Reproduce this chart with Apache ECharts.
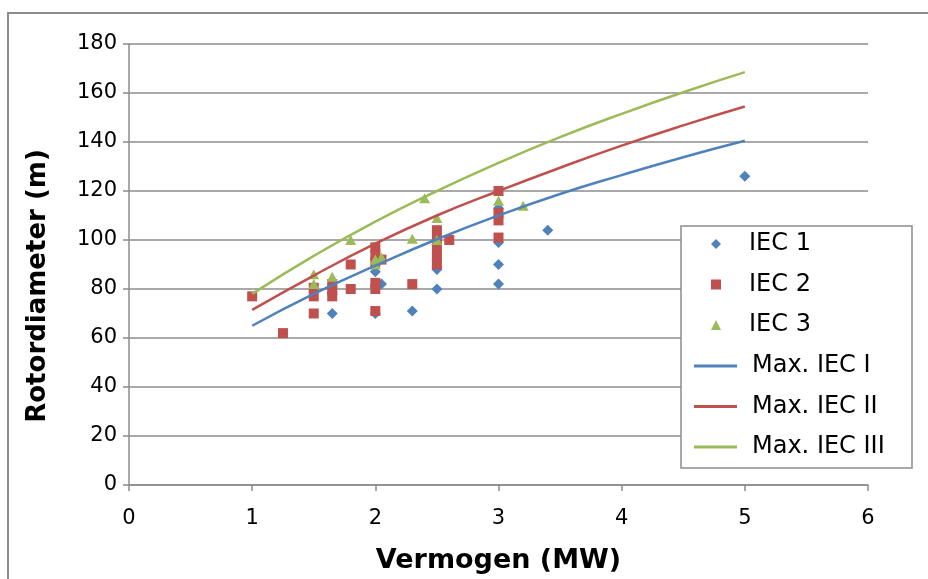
<!DOCTYPE html>
<html>
<head>
<meta charset="utf-8">
<script src="https://cdn.jsdelivr.net/npm/echarts@6/dist/echarts.min.js"></script>
<style>
html,body{margin:0;padding:0;background:#fff;}
#chart{width:928px;height:579px;}
</style>
</head>
<body>
<div id="chart"></div>
<script>
// ---- data ----
const seriesNames = ['IEC 1', 'IEC 2', 'IEC 3', 'Max. IEC I', 'Max. IEC II', 'Max. IEC III'];
const xTitle = 'Vermogen (MW)';
const yTitle = 'Rotordiameter (m)';
const xMin = 0, xMax = 6, xStep = 1;
const yMin = 0, yMax = 180, yStep = 20;

// scatter points [MW, m]
const iec1 = [[1.65,70],[2.0,70],[2.0,87],[2.05,82],[2.3,71],[2.5,80],[2.5,88],[2.5,89],
              [3.0,82],[3.0,90],[3.0,99],[3.0,113],[3.4,104],[5.0,126]];
const iec2 = [[1.0,77],[1.25,62],[1.5,70],[1.5,77],[1.5,80.5],[1.65,77],[1.65,79.5],[1.65,82],
              [1.8,80],[1.8,90],[2.0,71],[2.0,80],[2.0,82.5],[2.0,91],[2.0,94],[2.0,97],[2.05,92],
              [2.3,82],[2.5,90],[2.5,93],[2.5,96.5],[2.5,100],[2.5,104],[2.6,100],
              [3.0,101],[3.0,108],[3.0,111],[3.0,120]];
const iec3 = [[1.5,82],[1.5,86],[1.65,85],[1.8,100],[2.0,90],[2.0,92],[2.05,93],[2.3,100.5],
              [2.4,117],[2.5,100],[2.5,109],[3.0,116],[3.2,114]];

// maximum curves, read at these capacities
const curveX   = [1, 1.5, 2, 2.5, 3, 3.5, 4, 4.5, 5];
const maxIEC1  = [65, 78, 89.5, 100.3, 110, 118.8, 126.5, 133.8, 140.5];
const maxIEC2  = [71.5, 85.5, 98.5, 110, 120, 129.5, 138.5, 146.8, 154.5];
const maxIEC3  = [78, 93.5, 107.5, 120, 131.5, 142, 151.5, 160.3, 168.5];

// ---- styling ----
const FONT = 'DejaVu Sans';
const GRID = '#8c8c8c';
const colors = ['#4F81BD', '#C0504D', '#9BBB59'];

const pair = (ys) => curveX.map((x, i) => [x, ys[i]]);

const legendText = {fontFamily: FONT, fontSize: 24, color: '#000', lineHeight: 24};

const chart = echarts.init(document.getElementById('chart'), null, {renderer: 'canvas'});
chart.setOption({
  animation: false,
  backgroundColor: '#ffffff',
  grid: {left: 129, top: 44, width: 739, height: 450, containLabel: false},
  xAxis: {
    type: 'value', min: xMin, max: xMax, interval: xStep,
    name: xTitle, nameLocation: 'middle', nameGap: 62,
    nameTextStyle: {fontFamily: FONT, fontSize: 27, fontWeight: 'bold', color: '#000'},
    axisLine: {show: true, onZero: false, lineStyle: {color: GRID, width: 1.5}},
    axisTick: {show: true, length: 6, lineStyle: {color: GRID, width: 1.5}},
    axisLabel: {fontFamily: FONT, fontSize: 21, color: '#000', margin: 23},
    splitLine: {show: false}
  },
  yAxis: {
    type: 'value', min: yMin, max: yMax, interval: yStep,
    axisLine: {show: true, onZero: false, lineStyle: {color: GRID, width: 1.5}},
    axisTick: {show: true, length: 6, lineStyle: {color: GRID, width: 1.5}},
    axisLabel: {fontFamily: FONT, fontSize: 21, color: '#000', margin: 12},
    splitLine: {show: true, lineStyle: {color: GRID, width: 1.5}}
  },
  legend: [
    {
      z: 20,
      orient: 'vertical', left: 711, top: 232, padding: 0,
      itemWidth: 10, itemHeight: 10, itemGap: 16.5,
      textStyle: Object.assign({padding: [0, 0, 0, 23]}, legendText),
      data: [
        {name: seriesNames[0], icon: 'diamond'},
        {name: seriesNames[1], icon: 'rect'},
        {name: seriesNames[2], icon: 'triangle'}
      ]
    },
    {
      z: 20,
      orient: 'vertical', left: 694, top: 354, padding: 0,
      itemWidth: 43, itemHeight: 3, itemGap: 16.5,
      textStyle: Object.assign({padding: [0, 0, 0, 10]}, legendText),
      data: [
        {name: seriesNames[3], icon: 'rect'},
        {name: seriesNames[4], icon: 'rect'},
        {name: seriesNames[5], icon: 'rect'}
      ]
    }
  ],
  graphic: {
    elements: [
      {type: 'rect', silent: true, z: -10,
       shape: {x: 8, y: 13, width: 940, height: 600},
       style: {fill: 'none', stroke: GRID, lineWidth: 2}},
      {type: 'rect', silent: true, z: 3,
       shape: {x: 681, y: 226, width: 231, height: 242},
       style: {fill: '#ffffff', stroke: GRID, lineWidth: 1.5}},
      {type: 'text', silent: true, x: 38, y: 286, rotation: Math.PI / 2,
       style: {text: yTitle, fontFamily: FONT, fontSize: 26, fontWeight: 'bold', fill: '#000',
               align: 'center', verticalAlign: 'middle'}}
    ]
  },
  series: [
    {name: seriesNames[0], type: 'scatter', symbol: 'diamond', symbolSize: [11, 11],
     itemStyle: {color: colors[0], opacity: 1}, data: iec1},
    {name: seriesNames[1], type: 'scatter', symbol: 'rect', symbolSize: 10,
     itemStyle: {color: colors[1], opacity: 1}, data: iec2},
    {name: seriesNames[2], type: 'scatter', symbol: 'triangle', symbolSize: [11, 10],
     itemStyle: {color: colors[2], opacity: 1}, data: iec3},
    {name: seriesNames[3], type: 'line', smooth: true, showSymbol: false, symbol: 'none',
     lineStyle: {color: colors[0], width: 2.5}, itemStyle: {color: colors[0]}, data: pair(maxIEC1)},
    {name: seriesNames[4], type: 'line', smooth: true, showSymbol: false, symbol: 'none',
     lineStyle: {color: colors[1], width: 2.5}, itemStyle: {color: colors[1]}, data: pair(maxIEC2)},
    {name: seriesNames[5], type: 'line', smooth: true, showSymbol: false, symbol: 'none',
     lineStyle: {color: colors[2], width: 2.5}, itemStyle: {color: colors[2]}, data: pair(maxIEC3)}
  ]
});
</script>
</body>
</html>
